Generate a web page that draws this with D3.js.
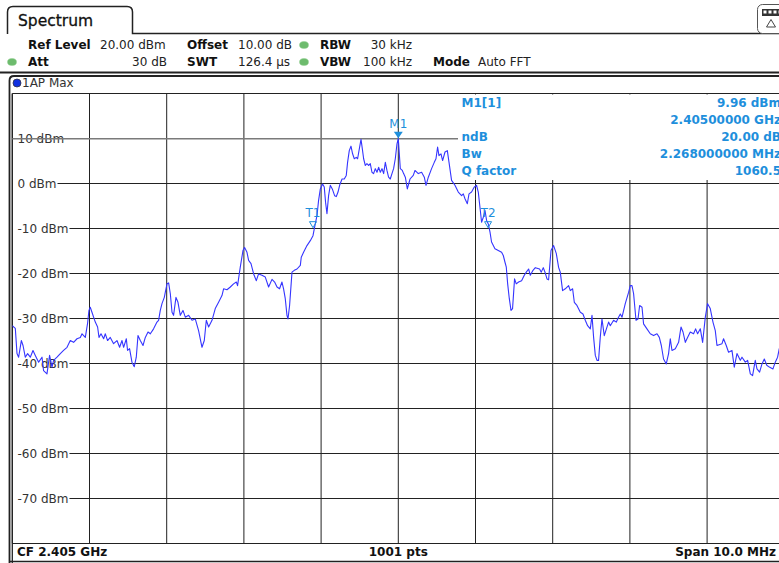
<!DOCTYPE html>
<html><head><meta charset="utf-8">
<script src="https://cdn.jsdelivr.net/npm/d3@7"></script>
<style>
body{margin:0;background:#fff;}
svg{display:block;font-family:"DejaVu Sans",Verdana,sans-serif;}
</style>
</head><body>
<svg id="c" width="779" height="563"></svg>
<script>
// ---------- data ----------
const startMHz = 2400;
const spanMHz = 10;
const centerGHz = 2.405;
const sweepPoints = 1001;
const refLevelDbm = 20;
const bottomDbm = -80;
const yTickValues = [10, 0, -10, -20, -30, -40, -50, -60, -70];

// trace: offset from start frequency (MHz) and level (dBm)
const freqOffsetMHz = [
0.000,0.039,0.061,0.082,0.117,0.139,0.168,0.198,0.233,0.268,
0.298,0.341,0.385,0.405,0.449,0.483,0.514,0.535,0.579,0.622,
0.664,0.709,0.751,0.794,0.838,0.881,0.903,0.946,0.975,0.993,
1.010,1.032,1.075,1.105,1.123,1.149,1.183,1.205,1.234,1.269,
1.312,1.356,1.390,1.421,1.442,1.477,1.493,1.519,1.550,1.580,
1.606,1.628,1.658,1.693,1.723,1.758,1.788,1.830,1.874,1.895,
1.917,1.939,1.969,1.986,
2.004,2.025,2.047,2.069,2.089,2.120,2.146,2.176,2.211,2.241,
2.284,2.328,2.370,2.413,2.457,2.487,2.513,2.543,2.587,2.629,
2.672,2.716,2.737,2.781,2.824,2.866,2.902,2.918,2.953,2.988,
3.009,3.040,3.061,3.092,3.126,3.161,3.190,3.234,3.277,3.320,
3.364,3.398,3.429,3.462,3.493,3.514,3.536,3.558,3.571,3.592,
3.623,3.653,3.688,3.731,3.743,3.773,3.817,3.860,3.895,3.916,
3.947,3.967,3.990,
4.019,4.041,4.058,4.076,4.097,4.119,4.145,4.175,4.197,4.219,
4.240,4.271,4.300,4.326,4.343,4.365,4.387,4.408,4.430,4.456,
4.473,4.499,4.517,4.534,4.551,4.573,4.594,4.615,4.637,4.659,
4.680,4.702,4.724,4.745,4.767,4.789,4.810,4.832,4.853,4.874,
4.896,4.918,4.939,4.961,4.983,5.000,
5.026,5.052,5.069,5.091,5.117,5.152,5.194,5.216,5.259,5.302,
5.337,5.359,5.389,5.431,5.466,5.488,5.509,5.527,5.553,5.574,
5.605,5.635,5.657,5.690,5.734,5.777,5.820,5.842,5.864,5.894,
5.916,5.949,5.984,6.014,6.036,6.058,6.079,6.101,6.123,6.144,
6.166,6.188,6.208,6.252,6.295,6.338,6.360,6.382,6.399,6.416,
6.438,6.460,6.480,6.506,6.528,6.558,6.597,6.632,6.658,6.688,
6.710,6.745,6.775,6.830,6.852,6.878,6.904,6.926,6.947,6.978,
7.012,7.047,7.076,7.098,7.128,7.163,7.206,7.228,7.258,7.280,
7.314,7.358,7.392,7.422,7.452,7.487,7.509,7.530,7.552,7.574,
7.594,7.616,7.638,7.668,7.703,7.724,7.746,7.789,7.824,7.853,
7.876,7.898,7.940,7.983,8.005,8.027,8.048,8.079,8.105,8.126,
8.157,8.177,8.221,8.264,8.307,8.351,8.381,8.407,8.436,8.471,
8.501,8.523,8.545,8.588,8.631,8.662,8.688,8.718,8.747,8.782,
8.825,8.851,8.877,8.912,8.942,8.977,9.006,9.041,9.076,9.106,
9.128,9.193,9.213,9.248,9.278,9.322,9.352,9.387,9.430,9.452,
9.495,9.525,9.560,9.589,9.624,9.646,9.680,9.711,9.741,9.773,
9.806,9.853,9.883,9.913,9.935,9.970,10.000
];
const levelDbm = [
-31.6,-32.2,-37.8,-38.6,-34.9,-36.0,-38.6,-37.8,-38.6,-37.1,
-38.2,-39.7,-38.6,-41.6,-42.3,-38.2,-40.8,-39.3,-38.6,-37.8,
-37.1,-36.4,-34.9,-35.3,-34.5,-34.2,-33.4,-34.2,-31.1,-28.2,
-27.5,-28.6,-30.8,-31.9,-34.2,-33.4,-34.5,-33.4,-34.9,-34.2,
-35.6,-34.9,-36.4,-34.9,-36.4,-34.5,-37.1,-36.7,-39.7,-40.7,
-38.6,-33.8,-34.9,-36.0,-34.2,-33.0,-33.4,-32.3,-30.8,-30.4,
-28.2,-26.7,-25.3,-23.8,
-22.3,-22.1,-24.5,-28.6,-29.3,-25.3,-26.4,-29.3,-28.2,-29.7,
-29.3,-30.4,-30.1,-32.7,-36.4,-34.9,-30.4,-31.9,-30.4,-27.8,
-26.4,-24.9,-23.4,-23.6,-23.0,-22.3,-21.9,-22.7,-18.6,-14.9,
-14.2,-15.3,-17.1,-17.8,-20.1,-21.6,-20.1,-20.4,-20.8,-23.0,
-21.3,-21.9,-23.0,-23.4,-21.9,-23.4,-25.6,-29.3,-30.1,-27.1,
-19.7,-19.3,-19.0,-18.2,-16.4,-15.3,-13.8,-12.7,-11.6,-9.7,
-7.1,-3.8,-1.2,
-0.1,-0.8,-4.2,-6.7,-2.7,-0.4,-1.2,-2.7,-2.9,-1.9,
-0.4,1.0,1.0,1.8,4.7,7.3,8.3,6.6,5.5,5.8,
5.5,8.1,9.8,7.7,5.5,4.0,4.4,4.0,4.4,2.5,
2.2,3.3,2.5,3.6,2.5,3.3,2.2,4.7,2.9,1.4,
1.0,2.2,3.3,5.5,8.8,9.96,
3.3,2.9,2.2,1.4,-1.2,1.0,1.8,2.9,2.2,2.5,
1.4,-0.4,1.4,3.3,4.7,5.5,8.1,6.2,6.6,5.1,
7.0,7.3,4.7,0.7,-0.4,-1.9,-2.7,-2.3,-3.4,-4.5,
-2.3,-1.9,-0.8,-0.4,-1.9,-5.3,-8.6,-7.5,-6.0,-8.2,
-9.0,-10.8,-13.0,-14.5,-14.9,-15.3,-16.0,-17.5,-18.6,-22.2,
-25.6,-28.2,-27.8,-21.2,-22.3,-21.9,-21.6,-20.4,-19.7,-19.0,
-20.4,-19.3,-18.7,-19.0,-19.7,-18.7,-19.9,-21.2,-21.4,-14.9,
-13.8,-15.6,-18.6,-19.7,-23.8,-23.4,-22.7,-23.8,-23.4,-26.4,
-27.1,-28.6,-29.0,-30.4,-31.6,-32.3,-29.3,-34.2,-38.2,-39.3,
-39.3,-34.2,-30.1,-33.8,-31.9,-30.8,-31.6,-30.4,-30.8,-29.7,
-29.0,-29.7,-26.7,-24.2,-22.7,-22.7,-24.5,-30.4,-30.1,-27.1,
-27.5,-31.2,-32.3,-33.4,-33.8,-33.4,-34.2,-36.0,-39.0,-40.1,
-37.8,-34.5,-37.1,-36.7,-35.3,-31.9,-33.0,-35.3,-34.2,-33.0,
-33.4,-32.3,-33.4,-32.3,-35.3,-29.7,-26.7,-27.8,-30.8,-32.7,
-36.0,-35.6,-34.5,-36.0,-37.5,-37.1,-40.8,-37.8,-39.3,-38.6,
-39.7,-39.3,-42.3,-42.7,-39.3,-41.2,-41.9,-40.1,-39.0,-40.4,
-40.8,-41.2,-39.7,-38.6,-36.7,-36.0,-35.5
];

// markers
const m1FreqMHz = 2405.0;
const m1LevelDbm = 9.96;
const ndbMarkerNames = ["T1", "T2"];
const ndbMarkerFreqMHz = [2403.895, 2406.163];
const ndbLevelDbm = -10.04;

// marker result table
const tableLabels = ["M1[1]", "", "ndB", "Bw", "Q factor"];
const tableValues = ["9.96 dBm", "2.40500000 GHz", "20.00 dB", "2.268000000 MHz", "1060.5"];

// header settings
const settingsRow1 = [["Ref Level", "20.00 dBm"], ["Offset", "10.00 dB"], ["RBW", "30 kHz"]];
const settingsRow2 = [["Att", "30 dB"], ["SWT", "126.4 µs"], ["VBW", "100 kHz"], ["Mode", "Auto FFT"]];

// ---------- drawing ----------
const svg = d3.select("#c");
const W = 779, H = 563;
const blue = "#1e8fdc";
const x = d3.scaleLinear().domain([startMHz, startMHz + spanMHz]).range([12.3, 784.3]);
const y = d3.scaleLinear().domain([bottomDbm, refLevelDbm]).range([543.5, 93.5]);

svg.append("rect").attr("width", W).attr("height", H).attr("fill", "#fff");

// tab "Spectrum"
svg.append("path")
  .attr("d", "M7.5,34 V12 Q7.5,6.5 13,6.5 H127 Q132.5,6.5 132.5,12 V33.5 H779")
  .attr("fill", "none").attr("stroke", "#222").attr("stroke-width", 1.5);
svg.append("text").attr("x", 18).attr("y", 26).attr("font-size", 15.5).attr("fill", "#111")
  .attr("stroke", "#111").attr("stroke-width", 0.3).text("Spectrum");

// right icon
svg.append("rect").attr("x", 757.5).attr("y", 4.5).attr("width", 34).attr("height", 29).attr("rx", 5)
  .attr("fill", "#fff").attr("stroke", "#555").attr("stroke-width", 1);
svg.append("rect").attr("x", 762).attr("y", 9).attr("width", 20).attr("height", 7).attr("fill", "#333");
[763.5, 768.5, 773.5, 778.5].forEach(px =>
  svg.append("rect").attr("x", px).attr("y", 10.5).attr("width", 3).attr("height", 3).attr("fill", "#fff"));
svg.append("path").attr("d", "M771,19.5 L766.5,27 L775.5,27 Z").attr("fill", "none").attr("stroke", "#444").attr("stroke-width", 1);

// settings rows
function greenDot(cx, cy) {
  svg.append("ellipse").attr("cx", cx).attr("cy", cy).attr("rx", 4.5).attr("ry", 3.5)
    .attr("fill", "#6dbb6d").attr("stroke", "#8fcf8f").attr("stroke-width", 0.5);
}
const rowY = [49, 66];
function labelValue(label, lx, value, vx, anchor, yy) {
  svg.append("text").attr("x", lx).attr("y", yy).attr("font-size", 12).attr("font-weight", "bold").attr("fill", "#111").text(label);
  svg.append("text").attr("x", vx).attr("y", yy).attr("font-size", 12).attr("fill", "#222")
    .attr("text-anchor", anchor).text(value);
}
labelValue(settingsRow1[0][0], 28, settingsRow1[0][1], 100, "start", rowY[0]);
labelValue(settingsRow1[1][0], 187, settingsRow1[1][1], 238, "start", rowY[0]);
labelValue(settingsRow1[2][0], 320, settingsRow1[2][1], 412, "end", rowY[0]);
greenDot(304, 45);
greenDot(12, 62);
labelValue(settingsRow2[0][0], 28, settingsRow2[0][1], 167, "end", rowY[1]);
labelValue(settingsRow2[1][0], 187, settingsRow2[1][1], 238, "start", rowY[1]);
labelValue(settingsRow2[2][0], 320, settingsRow2[2][1], 412, "end", rowY[1]);
labelValue(settingsRow2[3][0], 433, settingsRow2[3][1], 478, "start", rowY[1]);
greenDot(304, 62);

svg.append("line").attr("x1", 0).attr("x2", W).attr("y1", 72.5).attr("y2", 72.5)
  .attr("stroke", "#222").attr("stroke-width", 2);

// outer diagram box
svg.append("path").attr("d", "M9.5,563 V80.5 Q9.5,76 14,76 H779")
  .attr("fill", "none").attr("stroke", "#222").attr("stroke-width", 1.8);
svg.append("circle").attr("cx", 17).attr("cy", 83).attr("r", 4)
  .attr("fill", "#1030e0").attr("stroke", "#334").attr("stroke-width", 0.8);
svg.append("text").attr("x", 22).attr("y", 87).attr("font-size", 12).attr("fill", "#333").text("1AP Max");

// grid
const gGrid = svg.append("g").attr("stroke", "#222").attr("stroke-width", 1).attr("fill", "none");
gGrid.selectAll("line.v").data(x.ticks(spanMHz)).join("line")
  .attr("x1", d => x(d)).attr("x2", d => x(d)).attr("y1", y(refLevelDbm)).attr("y2", y(bottomDbm));
gGrid.selectAll("line.h").data(d3.range(bottomDbm, refLevelDbm + 1, 10)).join("line")
  .attr("x1", x(startMHz)).attr("x2", x(startMHz + spanMHz)).attr("y1", d => y(d)).attr("y2", d => y(d));
// left border continues through bottom bar
svg.append("line").attr("x1", x(startMHz)).attr("x2", x(startMHz)).attr("y1", y(refLevelDbm)).attr("y2", 563)
  .attr("stroke", "#222").attr("stroke-width", 1.3);
svg.append("line").attr("x1", 9).attr("x2", W).attr("y1", 561.5).attr("y2", 561.5)
  .attr("stroke", "#222").attr("stroke-width", 1.5);

// y labels with white background
const gLab = svg.append("g");
yTickValues.forEach(v => {
  const t = gLab.append("text").attr("x", 17.5).attr("y", y(v)).attr("dy", "0.36em")
    .attr("font-size", 12).attr("fill", "#333").text(v + " dBm");
  const w = t.node().getComputedTextLength();
  gLab.insert("rect", "text").attr("x", 13).attr("y", y(v) - 2).attr("width", w + 5.5).attr("height", 4).attr("fill", "#fff");
});

// ndB reference line at marker level
svg.append("line").attr("x1", x(startMHz)).attr("x2", 460).attr("y1", y(m1LevelDbm)).attr("y2", y(m1LevelDbm))
  .attr("stroke", "#7a7a7a").attr("stroke-width", 1.6);

// marker table
svg.append("rect").attr("x", 458).attr("y", 94.5).attr("width", W - 458).attr("height", 85.5).attr("fill", "#fff");
const rowBase = [107, 124, 141, 158, 175];
svg.append("g").selectAll("text").data(tableLabels).join("text")
  .attr("x", 461.5).attr("y", (d, i) => rowBase[i]).attr("font-size", 12).attr("font-weight", "bold")
  .attr("fill", blue).text(d => d);
svg.append("g").selectAll("text").data(tableValues).join("text")
  .attr("x", 781).attr("y", (d, i) => rowBase[i]).attr("text-anchor", "end").attr("font-size", 12)
  .attr("font-weight", "bold").attr("fill", blue).text(d => d);

// trace
const n = Math.min(freqOffsetMHz.length, levelDbm.length);
const trace = d3.range(n).map(i => [startMHz + freqOffsetMHz[i], levelDbm[i]]);
svg.append("defs").append("clipPath").attr("id", "pc").append("rect")
  .attr("x", x(startMHz)).attr("y", y(refLevelDbm)).attr("width", x(startMHz + spanMHz) - x(startMHz))
  .attr("height", y(bottomDbm) - y(refLevelDbm));
svg.append("path").datum(trace).attr("clip-path", "url(#pc)")
  .attr("d", d3.line().x(d => x(d[0])).y(d => y(d[1])))
  .attr("fill", "none").attr("stroke", "#3535ff").attr("stroke-width", 1.1).attr("stroke-linejoin", "round");

// M1 marker
const mx = x(m1FreqMHz), my = y(m1LevelDbm);
svg.append("path").attr("d", `M${mx - 4.5},${my - 7} L${mx + 4.5},${my - 7} L${mx},${my - 0.5} Z`).attr("fill", blue);
svg.append("text").attr("x", mx).attr("y", my - 11).attr("text-anchor", "middle").attr("font-size", 12)
  .attr("fill", blue).text("M1");

// ndB markers T1, T2
ndbMarkerNames.forEach((name, i) => {
  const tx = x(ndbMarkerFreqMHz[i]), ty = y(ndbLevelDbm);
  svg.append("path").attr("d", `M${tx - 3.5},${ty - 7} L${tx + 3.5},${ty - 7} L${tx},${ty - 1} Z`)
    .attr("fill", "none").attr("stroke", blue).attr("stroke-width", 1);
  svg.append("text").attr("x", tx).attr("y", ty - 12).attr("text-anchor", "middle").attr("font-size", 12)
    .attr("fill", blue).text(name);
});

// bottom bar
const bottomY = 556;
svg.append("text").attr("x", 17).attr("y", bottomY).attr("font-size", 12).attr("font-weight", "bold")
  .attr("fill", "#111").text(`CF ${centerGHz.toFixed(3)} GHz`);
svg.append("text").attr("x", x(startMHz + spanMHz / 2)).attr("y", bottomY).attr("text-anchor", "middle")
  .attr("font-size", 12).attr("font-weight", "bold").attr("fill", "#111").text(`${sweepPoints} pts`);
svg.append("text").attr("x", 776).attr("y", bottomY).attr("text-anchor", "end").attr("font-size", 12)
  .attr("font-weight", "bold").attr("fill", "#111").text(`Span ${spanMHz.toFixed(1)} MHz`);
</script>
</body></html>
